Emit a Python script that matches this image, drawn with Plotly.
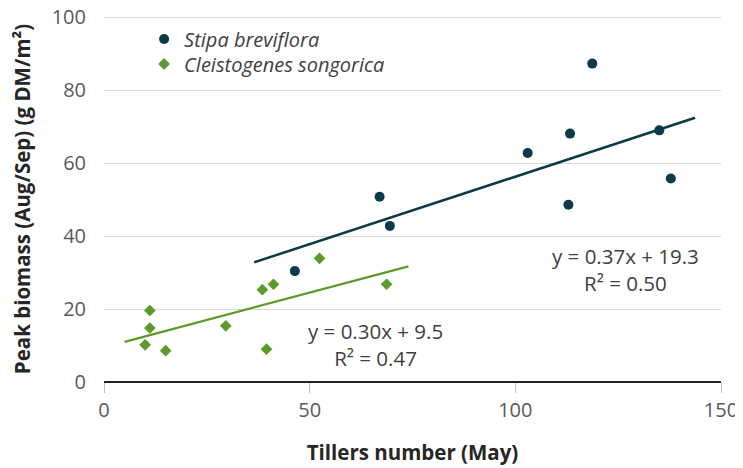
import plotly.graph_objects as go

# Data
stipa_tillers = [46.4, 67.0, 69.5, 103.0, 112.9, 113.3, 118.7, 135.0, 137.8]
stipa_biomass = [30.4, 50.8, 42.8, 62.8, 48.6, 68.1, 87.3, 69.0, 55.8]

cleist_tillers = [10.0, 11.15, 11.15, 15.0, 29.6, 38.5, 39.5, 41.2, 52.4, 68.7]
cleist_biomass = [10.2, 14.8, 19.6, 8.6, 15.4, 25.3, 9.0, 26.8, 33.9, 26.8]

# Trendlines (slope, intercept) as labelled, and the x-extent they are drawn over
stipa_fit = (0.37, 19.3)
stipa_fit_x = [36.5, 143.7]
cleist_fit = (0.30, 9.5)
cleist_fit_x = [5.0, 74.0]

x_ticks = [0, 50, 100, 150]
y_ticks = [0, 20, 40, 60, 80, 100]

DARK = "#0b3a48"
GREEN = "#5b9a2b"
FONT = "Open Sans"

fig = go.Figure()

fig.add_trace(go.Scatter(
    x=stipa_tillers, y=stipa_biomass, mode="markers", name="Stipa breviflora",
    marker=dict(symbol="circle", size=10, color=DARK), legend="legend",
))
fig.add_trace(go.Scatter(
    x=cleist_tillers, y=cleist_biomass, mode="markers", name="Cleistogenes songorica",
    marker=dict(symbol="diamond", size=9, color=GREEN), legend="legend2",
))
fig.add_trace(go.Scatter(
    x=stipa_fit_x, y=[stipa_fit[0] * v + stipa_fit[1] for v in stipa_fit_x],
    mode="lines", line=dict(color=DARK, width=2.5), showlegend=False, hoverinfo="skip",
))
fig.add_trace(go.Scatter(
    x=cleist_fit_x, y=[cleist_fit[0] * v + cleist_fit[1] for v in cleist_fit_x],
    mode="lines", line=dict(color=GREEN, width=2.2), showlegend=False, hoverinfo="skip",
))

ann_font = dict(family=FONT, size=20.5, color="#404040")
fig.add_annotation(xref="x", yref="y", x=126.8, y=30.8, showarrow=False, font=ann_font,
                   align="center", xanchor="center", yanchor="middle",
                   text="y = 0.37x + 19.3<br>R² = 0.50")
fig.add_annotation(xref="x", yref="y", x=66.0, y=10.2, showarrow=False, font=ann_font,
                   align="center", xanchor="center", yanchor="middle",
                   text="y = 0.30x + 9.5<br>R² = 0.47")

legend_font = dict(family=FONT, size=20, color="#404040", style="italic")
fig.update_layout(
    width=735, height=460,
    margin=dict(l=96, r=22, t=8, b=86, pad=0),
    paper_bgcolor="white", plot_bgcolor="white",
    font=dict(family=FONT, color="#404040"),
    showlegend=True,
    legend=dict(x=0.065, y=0.937, xanchor="left", yanchor="middle",
                bgcolor="rgba(0,0,0,0)", font=legend_font, itemwidth=30),
    legend2=dict(x=0.065, y=0.869, xanchor="left", yanchor="middle",
                 bgcolor="rgba(0,0,0,0)", font=legend_font, itemwidth=30),
    xaxis=dict(
        range=[0, 150], tickvals=x_ticks, ticktext=[str(v) for v in x_ticks],
        showgrid=False, zeroline=False, automargin=False,
        showline=False, ticklabeloverflow="allow",
        ticks="outside", ticklen=10, tickcolor="#bfbfbf", tickwidth=1,
        ticklabelstandoff=0,
        tickfont=dict(family=FONT, size=20, color="#595959"),
        title=dict(text="Tillers number (May)",
                   font=dict(family=FONT, size=20.5, color="#262626", weight="bold"),
                   standoff=23),
    ),
    yaxis=dict(
        range=[0, 100.35], tickvals=y_ticks, ticktext=[str(v) for v in y_ticks],
        showgrid=True, gridcolor="#d9d9d9", gridwidth=1.3, automargin=False,
        zeroline=True, zerolinecolor="#222222", zerolinewidth=2,
        showline=False, ticks="", ticklabelstandoff=17, ticklabeloverflow="allow",
        tickfont=dict(family=FONT, size=20, color="#595959"),
        title=dict(text="Peak biomass (Aug/Sep) (g DM/m²)",
                   font=dict(family=FONT, size=20.5, color="#262626", weight="bold"),
                   standoff=36),
    ),
)

fig.write_html("out.html")
